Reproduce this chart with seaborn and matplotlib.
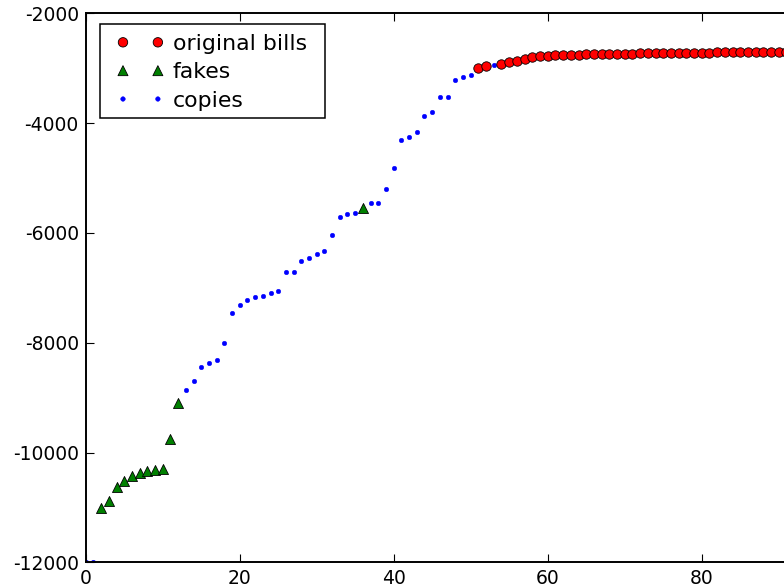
import matplotlib
matplotlib.use("Agg")
import matplotlib.pyplot as plt
import matplotlib.patches as mpatches
import seaborn as sns
import pandas as pd

# ---- data ----
orig_x = [51, 52, 54, 55, 56, 57, 58, 59, 60, 61, 62, 63, 64, 65, 66, 67, 68, 69,
          70, 71, 72, 73, 74, 75, 76, 77, 78, 79, 80, 81, 82, 83, 84, 85, 86, 87,
          88, 89, 90, 91, 92, 93, 94, 95, 96, 97, 98, 99]
orig_y = [-2990, -2955, -2930, -2890, -2860, -2830, -2800, -2778, -2770, -2764,
          -2759, -2755, -2751, -2748, -2745, -2742, -2739, -2737, -2735, -2733,
          -2731, -2729, -2727, -2725, -2723, -2722, -2720, -2718, -2717, -2715,
          -2714, -2712, -2711, -2710, -2708, -2707, -2706, -2704, -2703, -2702,
          -2701, -2700, -2699, -2698, -2697, -2696, -2695, -2694]

fake_x = [2, 3, 4, 5, 6, 7, 8, 9, 10, 11, 12, 36]
fake_y = [-11016, -10889, -10628, -10525, -10428, -10368, -10337, -10313,
          -10306, -9760, -9093, -5552]

copy_x = [0, 1, 13, 14, 15, 16, 17, 18, 19, 20, 21, 22, 23, 24, 25, 26, 27, 28,
          29, 30, 31, 32, 33, 34, 35, 37, 38, 39, 40, 41, 42, 43, 44, 45, 46, 47,
          48, 49, 50, 53]
copy_y = [-12000, -11990, -8867, -8692, -8437, -8370, -8315, -8000, -7453, -7308,
          -7222, -7162, -7155, -7089, -7064, -6707, -6707, -6512, -6452, -6384,
          -6330, -6038, -5716, -5650, -5638, -5461, -5455, -5195, -4812, -4310,
          -4253, -4168, -3865, -3792, -3525, -3519, -3220, -3154, -3118, -2942]

x_ticks = [0, 20, 40, 60, 80, 100]
y_ticks = [-12000, -10000, -8000, -6000, -4000, -2000]

orig_df = pd.DataFrame({"x": orig_x, "y": orig_y})
fake_df = pd.DataFrame({"x": fake_x, "y": fake_y})
copy_df = pd.DataFrame({"x": copy_x, "y": copy_y})

sns.set_style("ticks")
plt.rcParams["font.family"] = ["DejaVu Sans"]
plt.rcParams["text.color"] = "black"
plt.rcParams["xtick.color"] = "black"
plt.rcParams["ytick.color"] = "black"
plt.rcParams["xtick.direction"] = "in"
plt.rcParams["ytick.direction"] = "in"

W, H = 784, 585
fig = plt.figure(figsize=(W / 100, H / 100), dpi=100, facecolor="white")
ax = fig.add_axes([85.7 / W, (H - 562.3) / H, 770 / W, (562.3 - 13.3) / H])

sns.scatterplot(data=orig_df, x="x", y="y", ax=ax, color="red", marker="o",
                s=46, edgecolor="black", linewidth=0.6, label="original bills", zorder=3)
sns.scatterplot(data=fake_df, x="x", y="y", ax=ax, color="green", marker="^",
                s=52, edgecolor="black", linewidth=0.6, label="fakes", zorder=3)
sns.scatterplot(data=copy_df, x="x", y="y", ax=ax, color="blue", marker="o",
                s=11, edgecolor="blue", linewidth=0.3, label="copies", zorder=2)

ax.set_xlim(0, 100)
ax.set_ylim(-12000, -2000)
ax.set_xticks(x_ticks)
ax.set_yticks(y_ticks)
ax.set_xticklabels([str(t) for t in x_ticks])
ax.set_yticklabels([str(t) for t in y_ticks])
ax.set_xlabel("")
ax.set_ylabel("")
ax.tick_params(axis="both", which="both", direction="in", top=True, right=True,
               length=6, width=0.8, labelsize=13.5, pad=5, colors="black",
               labelcolor="black")
for sp in ax.spines.values():
    sp.set_visible(True)
    sp.set_color("black")
    sp.set_linewidth(1.4)

# legend content (no own frame), placed in figure pixels
leg = ax.legend(loc="upper left", bbox_to_anchor=(116.4 / W, 1 - 34 / H),
                bbox_transform=fig.transFigure,
                scatterpoints=2, scatteryoffsets=[0.5],
                fontsize=15.8, frameon=False,
                borderpad=0.0, labelspacing=0.38, handlelength=2.19,
                handletextpad=0.38, borderaxespad=0.0)
leg.set_zorder(6)
for t in leg.get_texts():
    t.set_color("black")

# legend frame, square-cornered black box
frame = mpatches.Rectangle((100 / W, 1 - 118 / H), 225 / W, 94 / H,
                           transform=fig.transFigure, facecolor="white",
                           edgecolor="black", linewidth=1.1, zorder=5,
                           clip_on=False)
ax.add_patch(frame)

fig.savefig("out.png", dpi=100, facecolor="white")
